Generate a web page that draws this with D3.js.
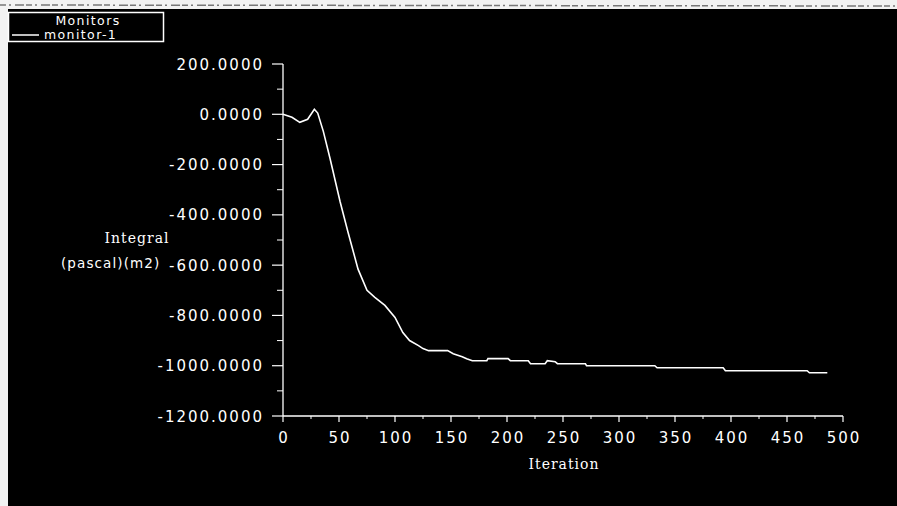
<!DOCTYPE html>
<html>
<head>
<meta charset="utf-8">
<script src="https://cdn.jsdelivr.net/npm/d3@7"></script>
<style>
  html, body { margin: 0; padding: 0; background: #fff; }
  svg { display: block; }
</style>
</head>
<body>
<svg id="chart" width="897" height="506"></svg>
<script>
// Monitor history: integral of pressure over the surface per iteration
const iterations = [0, 8, 15, 22, 28, 31, 36, 42, 51, 58, 67, 75, 82, 91, 100, 107, 113, 121, 125, 130,
  147, 152, 160, 164, 169, 182, 183, 201, 203, 219, 221, 234, 236, 243, 245, 270, 271, 332, 334, 393,
  395, 468, 470, 486];
const monitorValues = [0, -12, -32, -20, 20, 5, -68, -176, -348, -468, -616, -700, -728, -760, -808, -868,
  -900, -920, -932, -940, -940, -952, -964, -972, -980, -980, -972, -972, -980, -980, -992, -992, -980,
  -984, -992, -992, -1000, -1000, -1008, -1008, -1020, -1020, -1028, -1028];
const yTicks = [200, 0, -200, -400, -600, -800, -1000, -1200];
const xTicks = [0, 50, 100, 150, 200, 250, 300, 350, 400, 450, 500];
const seriesName = "monitor-1";
const legendTitle = "Monitors";

const SANS = "DejaVu Sans, sans-serif";
const SERIF = "DejaVu Serif, serif";

const svg = d3.select("#chart");

// paper border around the black plot window
svg.append("rect").attr("x", 0).attr("y", 0).attr("width", 897).attr("height", 506).attr("fill", "#f2f2f2");
svg.append("rect").attr("x", 8).attr("y", 9).attr("width", 889).attr("height", 497).attr("fill", "#000");
svg.append("line").attr("x1", 0).attr("x2", 897).attr("y1", 5).attr("y2", 6)
  .attr("stroke", "#777").attr("stroke-width", 1.5).attr("stroke-dasharray", "6 3 2 4 9 2");

const x = d3.scaleLinear().domain([0, 500]).range([283, 843]);
const y = d3.scaleLinear().domain([-1200, 200]).range([416, 64]);

const labelStyle = sel => sel.attr("font-family", SANS).attr("fill", "#fff")
  .attr("font-size", 15).attr("letter-spacing", 2);
const fmt = d => d3.format(".4f")(d).replace("\u2212", "-");

// y axis
const yAxis = svg.append("g").attr("transform", `translate(${x(0)},0)`);
yAxis.append("line").attr("x1", 0).attr("x2", 0).attr("y1", y(200)).attr("y2", y(-1200))
  .attr("stroke", "#fff").attr("stroke-width", 1.3);
yAxis.selectAll(".major").data(yTicks).join("line")
  .attr("x1", -11).attr("x2", 0).attr("y1", d => y(d)).attr("y2", d => y(d))
  .attr("stroke", "#fff").attr("stroke-width", 1.2);
yAxis.selectAll(".minor").data(d3.range(-1100, 200, 200)).join("line")
  .attr("x1", -6).attr("x2", 0).attr("y1", d => y(d)).attr("y2", d => y(d))
  .attr("stroke", "#fff").attr("stroke-width", 1);
yAxis.selectAll("text").data(yTicks).join("text")
  .call(labelStyle)
  .attr("x", -19).attr("y", d => y(d) + 5.5).attr("text-anchor", "end")
  .text(fmt);

// x axis
const xAxis = svg.append("g").attr("transform", `translate(0,${y(-1200)})`);
xAxis.append("line").attr("x1", x(0)).attr("x2", x(500)).attr("y1", 0).attr("y2", 0)
  .attr("stroke", "#fff").attr("stroke-width", 1.3);
xAxis.selectAll(".major").data(xTicks).join("line")
  .attr("x1", d => x(d)).attr("x2", d => x(d)).attr("y1", 0).attr("y2", 6)
  .attr("stroke", "#fff").attr("stroke-width", 1.2);
xAxis.selectAll(".minor").data(d3.range(25, 500, 50)).join("line")
  .attr("x1", d => x(d)).attr("x2", d => x(d)).attr("y1", 0).attr("y2", 3)
  .attr("stroke", "#fff").attr("stroke-width", 1);
xAxis.selectAll("text").data(xTicks).join("text")
  .call(labelStyle)
  .attr("x", d => x(d) + 1).attr("y", 27).attr("text-anchor", "middle")
  .text(d => d);

// axis titles
svg.append("text").attr("x", 564).attr("y", 469).attr("text-anchor", "middle")
  .attr("fill", "#fff").attr("font-family", SERIF)
  .attr("font-size", 14).attr("letter-spacing", 1).text("Iteration");
svg.append("text").attr("x", 137).attr("y", 243).attr("text-anchor", "middle")
  .attr("fill", "#fff").attr("font-family", SERIF)
  .attr("font-size", 14).attr("letter-spacing", 1).text("Integral");
svg.append("text").attr("x", 61).attr("y", 268).attr("text-anchor", "start")
  .attr("fill", "#fff").attr("font-family", SANS)
  .attr("font-size", 13.5).attr("letter-spacing", 1.1).text("(pascal)(m2)");

// monitor curve
const line = d3.line().x((d, i) => x(iterations[i])).y(d => y(d));
svg.append("path").datum(monitorValues)
  .attr("d", line).attr("fill", "none").attr("stroke", "#fff").attr("stroke-width", 1.6);

// legend
const legend = svg.append("g");
legend.append("rect").attr("x", 8.5).attr("y", 12.5).attr("width", 155).attr("height", 29)
  .attr("fill", "#000").attr("stroke", "#fff").attr("stroke-width", 1.5);
legend.append("text").attr("x", 88).attr("y", 25).attr("text-anchor", "middle")
  .attr("fill", "#fff").attr("font-family", SANS)
  .attr("font-size", 12.5).attr("letter-spacing", 1.4).text(legendTitle);
legend.append("line").attr("x1", 12).attr("x2", 39).attr("y1", 35).attr("y2", 35)
  .attr("stroke", "#fff").attr("stroke-width", 1.5);
legend.append("text").attr("x", 44).attr("y", 39)
  .attr("fill", "#fff").attr("font-family", SANS)
  .attr("font-size", 12.5).attr("letter-spacing", 1.4).text(seriesName);
</script>
</body>
</html>
